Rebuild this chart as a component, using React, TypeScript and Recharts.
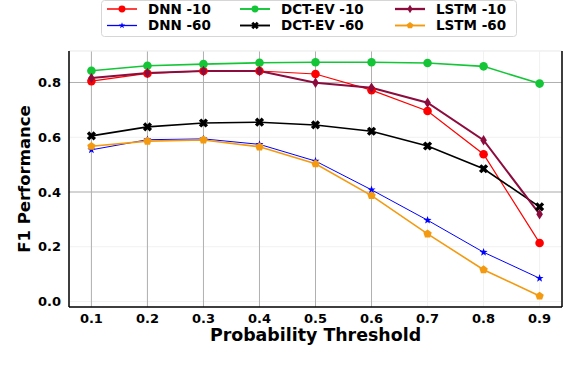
import React from 'react';
import { LineChart, Line, XAxis, YAxis, CartesianGrid, ReferenceLine, Legend } from 'recharts';

const thresholds = [0.1, 0.2, 0.3, 0.4, 0.5, 0.6, 0.7, 0.8, 0.9];
const dnn10 = [0.805, 0.833, 0.842, 0.842, 0.831, 0.772, 0.696, 0.538, 0.214];
const dnn60 = [0.554, 0.591, 0.594, 0.574, 0.513, 0.408, 0.297, 0.18, 0.085];
const dctev10 = [0.843, 0.861, 0.867, 0.872, 0.874, 0.874, 0.871, 0.859, 0.796];
const dctev60 = [0.605, 0.638, 0.652, 0.655, 0.645, 0.622, 0.568, 0.485, 0.346];
const lstm10 = [0.816, 0.835, 0.842, 0.842, 0.799, 0.781, 0.726, 0.589, 0.319];
const lstm60 = [0.567, 0.586, 0.59, 0.565, 0.503, 0.387, 0.247, 0.116, 0.02];

const yTicks = [0, 0.2, 0.4, 0.6, 0.8];
// gridlines that show up darker in the original render
const strongGridX = [0.1, 0.2, 0.3, 0.4, 0.5, 0.6];
const strongGridY = [0.4, 0.8];

const FONT = '"DejaVu Sans", sans-serif';

type Kind = 'circle' | 'star' | 'x' | 'diamond' | 'pentagon';

const series: { key: string; name: string; color: string; width: number; marker: Kind; values: number[] }[] = [
  { key: 'dnn10', name: 'DNN -10', color: '#ff0000', width: 1.2, marker: 'circle', values: dnn10 },
  { key: 'dnn60', name: 'DNN -60', color: '#0000ff', width: 1, marker: 'star', values: dnn60 },
  { key: 'dctev10', name: 'DCT-EV -10', color: '#14c637', width: 1.6, marker: 'circle', values: dctev10 },
  { key: 'dctev60', name: 'DCT-EV -60', color: '#000000', width: 1.6, marker: 'x', values: dctev60 },
  { key: 'lstm10', name: 'LSTM -10', color: '#8c0c3e', width: 2, marker: 'diamond', values: lstm10 },
  { key: 'lstm60', name: 'LSTM -60', color: '#f39a10', width: 1.6, marker: 'pentagon', values: lstm60 },
];

const data = thresholds.map((t, i) => {
  const row: Record<string, number> = { t };
  series.forEach((s) => (row[s.key] = s.values[i]));
  return row;
});

const poly = (pts: number[][]) => pts.map((p) => p.join(',')).join(' ');

const Marker = ({ kind, cx, cy, color, s = 1 }: { kind: Kind; cx: number; cy: number; color: string; s?: number }) => {
  if (kind === 'circle') return <circle cx={cx} cy={cy} r={4.3 * s} fill={color} />;
  if (kind === 'star') {
    const pts: number[][] = [];
    for (let i = 0; i < 10; i++) {
      const r = (i % 2 === 0 ? 4.2 : 1.7) * s;
      const a = -Math.PI / 2 + (i * Math.PI) / 5;
      pts.push([cx + r * Math.cos(a), cy + r * Math.sin(a)]);
    }
    return <polygon points={poly(pts)} fill={color} />;
  }
  if (kind === 'pentagon') {
    const pts: number[][] = [];
    for (let i = 0; i < 5; i++) {
      const a = -Math.PI / 2 + (i * 2 * Math.PI) / 5;
      pts.push([cx + 4.4 * s * Math.cos(a), cy + 4.4 * s * Math.sin(a)]);
    }
    return <polygon points={poly(pts)} fill={color} />;
  }
  if (kind === 'diamond') {
    return (
      <polygon
        points={poly([[cx, cy - 5.2 * s], [cx + 3.3 * s, cy], [cx, cy + 5.2 * s], [cx - 3.3 * s, cy]])}
        fill={color}
      />
    );
  }
  // filled X
  const a = 4.8 * s;
  const t = 1.7 * s;
  const plus = [[-t, -a], [t, -a], [t, -t], [a, -t], [a, t], [t, t], [t, a], [-t, a], [-t, t], [-a, t], [-a, -t], [-t, -t]];
  const c = Math.SQRT1_2;
  const pts = plus.map(([x, y]) => [cx + (x - y) * c, cy + (x + y) * c]);
  return <polygon points={poly(pts)} fill={color} />;
};

const LegendBox = () => (
  <svg width={416} height={37} style={{ display: 'block' }}>
    <rect x={0.5} y={0.5} width={415} height={36} rx={3} fill="#fff" stroke="#d6d6d6" />
    {series.map((s, i) => {
      const col = Math.floor(i / 2);
      const row = i % 2;
      const x0 = [6, 139, 294][col];
      const y = row === 0 ? 9 : 25.5;
      return (
        <g key={s.key}>
          <line x1={x0} x2={x0 + 30} y1={y} y2={y} stroke={s.color} strokeWidth={s.width + 0.3} />
          <Marker kind={s.marker} cx={x0 + 15} cy={y} color={s.color} s={0.8} />
          <text x={x0 + 41} y={y + 4.8} fontFamily={FONT} fontWeight="bold" fontSize={13.5} fill="#000">
            {s.name}
          </text>
        </g>
      );
    })}
  </svg>
);

export default function App() {
  return (
    <div style={{ position: 'absolute', left: 0, top: 0, width: 564, height: 370, background: '#fff' }}>
      <LineChart width={564} height={370} data={data} margin={{ top: 51, right: 2, bottom: 0, left: 0 }}>
        <CartesianGrid stroke="#f1f1f1" strokeWidth={1} />
        {strongGridX.map((x) => (
          <ReferenceLine key={`gx${x}`} x={x} stroke="#b0b0b0" strokeWidth={1} />
        ))}
        {strongGridY.map((y) => (
          <ReferenceLine key={`gy${y}`} y={y} stroke="#b0b0b0" strokeWidth={1} />
        ))}
        <ReferenceLine y={0.915} stroke="#efefef" strokeWidth={1} />
        <ReferenceLine x={0.94} stroke="#000" strokeWidth={1.5} />
        <XAxis
          dataKey="t"
          type="number"
          domain={[0.06, 0.94]}
          ticks={thresholds}
          allowDataOverflow
          height={63}
          tickLine={false}
          tickSize={0}
          tickMargin={7}
          axisLine={{ stroke: '#000', strokeWidth: 1.5 }}
          tick={{ fill: '#000', fontSize: 13, fontWeight: 'bold', fontFamily: FONT }}
          tickFormatter={(v: number) => v.toFixed(1)}
          label={{
            content: ({ viewBox }: any) => (
              <text
                x={viewBox.x + viewBox.width / 2}
                y={viewBox.y + 34}
                textAnchor="middle"
                fontFamily={FONT}
                fontWeight="bold"
                fontSize={17.4}
                fill="#000"
              >
                Probability Threshold
              </text>
            ),
          }}
        />
        <YAxis
          type="number"
          domain={[-0.02, 0.915]}
          ticks={yTicks}
          allowDataOverflow
          width={69}
          tickLine={false}
          tickSize={0}
          tickMargin={8}
          axisLine={{ stroke: '#000', strokeWidth: 1.5 }}
          tick={{ fill: '#000', fontSize: 13, fontWeight: 'bold', fontFamily: FONT }}
          tickFormatter={(v: number) => v.toFixed(1)}
          label={{
            content: ({ viewBox }: any) => {
              const cx = 24;
              const cy = viewBox.y + viewBox.height / 2;
              return (
                <text
                  x={cx}
                  y={cy}
                  transform={`rotate(-90 ${cx} ${cy})`}
                  textAnchor="middle"
                  dominantBaseline="central"
                  fontFamily={FONT}
                  fontWeight="bold"
                  fontSize={16.5}
                  fill="#000"
                >
                  F1 Performance
                </text>
              );
            },
          }}
        />
        {series.map((s) => (
          <Line
            key={s.key}
            dataKey={s.key}
            name={s.name}
            stroke={s.color}
            strokeWidth={s.width}
            isAnimationActive={false}
            activeDot={false}
            dot={(p: any) => (
              <g key={`${s.key}-${p.index}`}>
                <Marker kind={s.marker} cx={p.cx} cy={p.cy} color={s.color} />
              </g>
            )}
          />
        ))}
        <Legend
          layout="horizontal"
          verticalAlign="middle"
          align="center"
          wrapperStyle={{ top: 0, left: 101, width: 416, height: 37 }}
          content={() => <LegendBox />}
        />
      </LineChart>
    </div>
  );
}
